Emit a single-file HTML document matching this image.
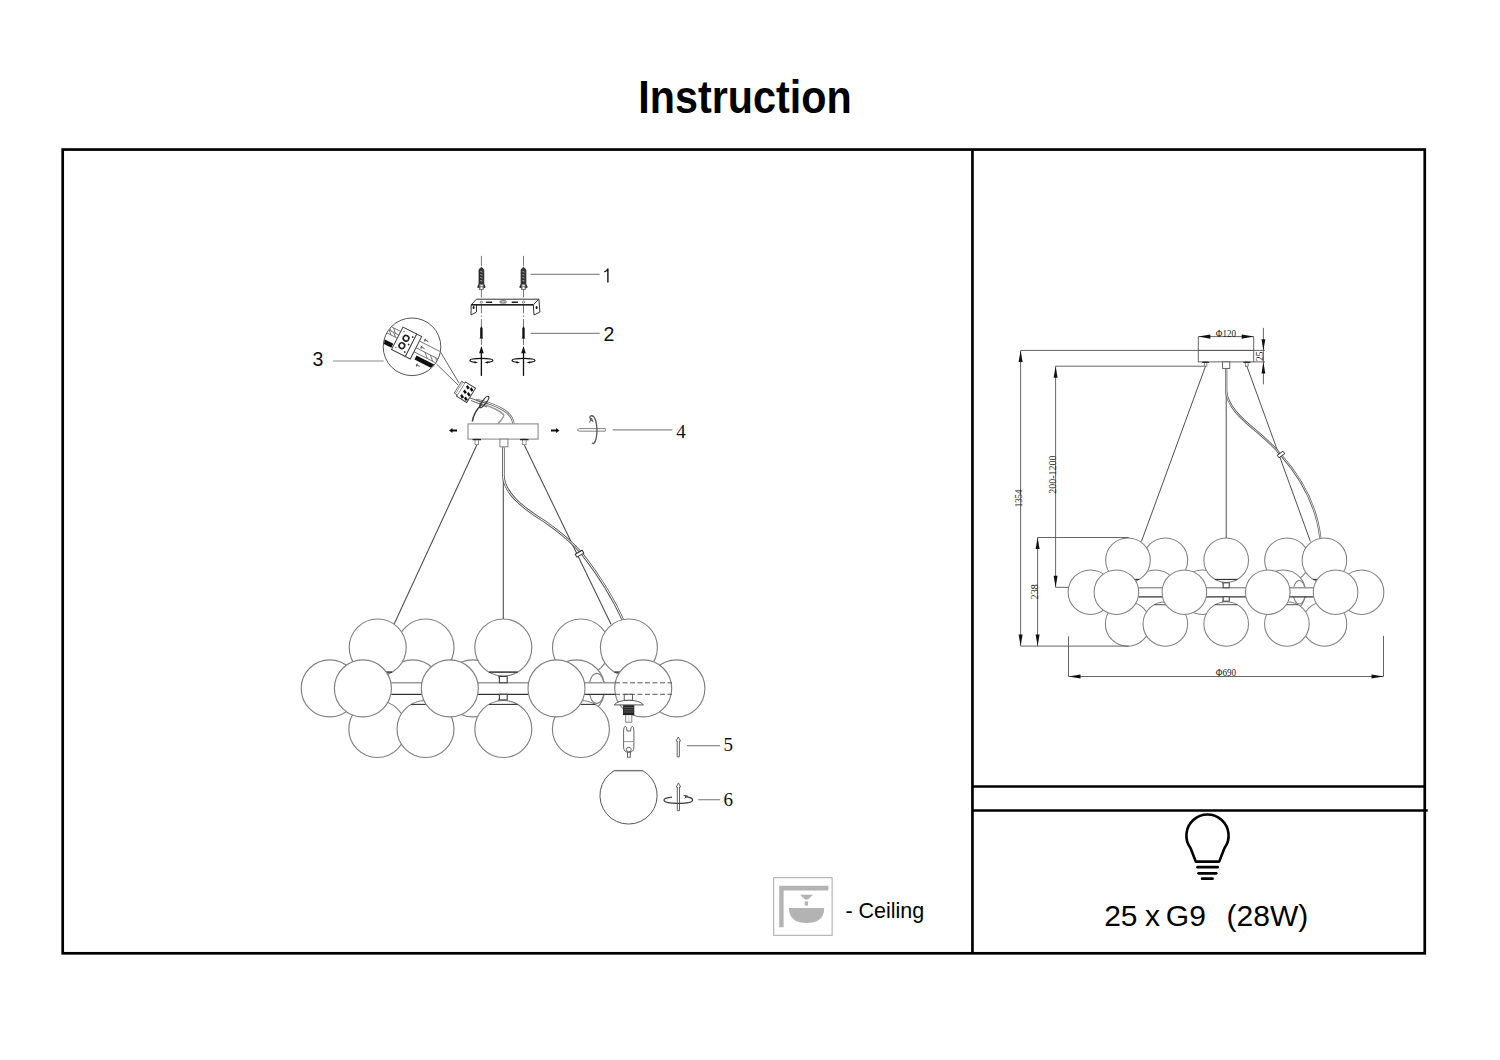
<!DOCTYPE html><html><head><meta charset="utf-8"><title>Instruction</title><style>
html,body{margin:0;padding:0;background:#fff;width:1500px;height:1060px;overflow:hidden}
svg{position:absolute;left:0;top:0}
</style></head><body>
<svg width="1500" height="1060" viewBox="0 0 1500 1060">
<rect width="1500" height="1060" fill="#fff"/>
<text x="641" y="113.4" transform="translate(641 0) scale(0.8785 1) translate(-641 0)" font-family="Liberation Sans" font-weight="bold" font-size="47" fill="#000" dx="-3">Instruction</text>
<g stroke="#000" stroke-width="2.7" fill="none">
<rect x="62.7" y="149.55" width="1362.05" height="803.75"/>
<line x1="972.45" y1="149.55" x2="972.45" y2="953.3"/>
<line x1="972.45" y1="786.5" x2="1424.75" y2="786.5"/>
<line x1="972.45" y1="810.5" x2="1427.7" y2="810.5"/>
</g>
<g>
<circle cx="425.50" cy="647.50" r="28.50" fill="#fff" stroke="#808080" stroke-width="1.15"/>
<circle cx="581.00" cy="647.50" r="28.50" fill="#fff" stroke="#808080" stroke-width="1.15"/>
<circle cx="329.70" cy="688.40" r="28.50" fill="#fff" stroke="#808080" stroke-width="1.15"/>
<circle cx="412.80" cy="688.40" r="28.50" fill="#fff" stroke="#808080" stroke-width="1.15"/>
<circle cx="472.70" cy="688.40" r="28.50" fill="#fff" stroke="#808080" stroke-width="1.15"/>
<circle cx="576.30" cy="688.40" r="28.50" fill="#fff" stroke="#808080" stroke-width="1.15"/>
<circle cx="676.40" cy="688.40" r="28.50" fill="#fff" stroke="#808080" stroke-width="1.15"/>
<circle cx="377.70" cy="647.50" r="28.50" fill="#fff" stroke="#808080" stroke-width="1.15"/>
<line x1="363.31" y1="672.10" x2="392.09" y2="672.10" stroke="#333" stroke-width="1.50"/>
<circle cx="628.90" cy="647.50" r="28.50" fill="#fff" stroke="#808080" stroke-width="1.15"/>
<line x1="614.51" y1="672.10" x2="643.29" y2="672.10" stroke="#333" stroke-width="1.50"/>
<circle cx="503.30" cy="647.50" r="28.50" fill="#fff" stroke="#808080" stroke-width="1.15"/>
<line x1="488.91" y1="672.10" x2="517.69" y2="672.10" stroke="#333" stroke-width="1.50"/>
<ellipse cx="596.70" cy="688.40" rx="7.80" ry="15.00" fill="#fff" stroke="#808080" stroke-width="1.15"/>
<circle cx="377.30" cy="729.00" r="28.50" fill="#fff" stroke="#808080" stroke-width="1.15"/>
<circle cx="425.50" cy="729.00" r="28.50" fill="#fff" stroke="#808080" stroke-width="1.15"/>
<line x1="411.11" y1="704.40" x2="439.89" y2="704.40" stroke="#333" stroke-width="1.10"/>
<circle cx="503.30" cy="729.00" r="28.50" fill="#fff" stroke="#808080" stroke-width="1.15"/>
<line x1="488.91" y1="704.40" x2="517.69" y2="704.40" stroke="#333" stroke-width="1.10"/>
<circle cx="580.90" cy="729.00" r="28.50" fill="#fff" stroke="#808080" stroke-width="1.15"/>
<line x1="566.51" y1="704.40" x2="595.29" y2="704.40" stroke="#333" stroke-width="1.10"/>
<rect x="391.30" y="682.70" width="224.00" height="11.60" fill="#fff" stroke="none"/>
<line x1="391.30" y1="682.70" x2="615.30" y2="682.70" stroke="#999" stroke-width="1.49"/>
<line x1="391.30" y1="694.30" x2="615.30" y2="694.30" stroke="#333" stroke-width="1.26"/>
<rect x="499.40" y="676.40" width="7.80" height="6.30" fill="#fff" stroke="#444" stroke-width="1.15"/>
<rect x="499.40" y="694.30" width="7.80" height="5.60" fill="#fff" stroke="#444" stroke-width="1.15"/>
<circle cx="362.90" cy="688.40" r="28.50" fill="#fff" stroke="#808080" stroke-width="1.15"/>
<circle cx="449.80" cy="688.40" r="28.50" fill="#fff" stroke="#808080" stroke-width="1.15"/>
<circle cx="556.50" cy="688.40" r="28.50" fill="#fff" stroke="#808080" stroke-width="1.15"/>
<circle cx="643.20" cy="688.40" r="28.50" fill="#fff" stroke="#808080" stroke-width="1.15"/>
</g>
<g>
<circle cx="1165.36" cy="560.22" r="22.29" fill="#fff" stroke="#808080" stroke-width="1.05"/>
<circle cx="1286.96" cy="560.22" r="22.29" fill="#fff" stroke="#808080" stroke-width="1.05"/>
<circle cx="1090.44" cy="592.20" r="22.29" fill="#fff" stroke="#808080" stroke-width="1.05"/>
<circle cx="1155.43" cy="592.20" r="22.29" fill="#fff" stroke="#808080" stroke-width="1.05"/>
<circle cx="1202.27" cy="592.20" r="22.29" fill="#fff" stroke="#808080" stroke-width="1.05"/>
<circle cx="1283.29" cy="592.20" r="22.29" fill="#fff" stroke="#808080" stroke-width="1.05"/>
<circle cx="1361.56" cy="592.20" r="22.29" fill="#fff" stroke="#808080" stroke-width="1.05"/>
<circle cx="1127.98" cy="560.22" r="22.29" fill="#fff" stroke="#808080" stroke-width="1.05"/>
<line x1="1116.73" y1="579.45" x2="1139.23" y2="579.45" stroke="#333" stroke-width="1.17"/>
<circle cx="1324.42" cy="560.22" r="22.29" fill="#fff" stroke="#808080" stroke-width="1.05"/>
<line x1="1313.17" y1="579.45" x2="1335.67" y2="579.45" stroke="#333" stroke-width="1.17"/>
<circle cx="1226.20" cy="560.22" r="22.29" fill="#fff" stroke="#808080" stroke-width="1.05"/>
<line x1="1214.95" y1="579.45" x2="1237.45" y2="579.45" stroke="#333" stroke-width="1.17"/>
<ellipse cx="1299.24" cy="592.20" rx="6.10" ry="11.73" fill="#fff" stroke="#808080" stroke-width="1.05"/>
<circle cx="1127.67" cy="623.95" r="22.29" fill="#fff" stroke="#808080" stroke-width="1.05"/>
<circle cx="1324.50" cy="623.95" r="22.29" fill="#fff" stroke="#808080" stroke-width="1.05"/>
<circle cx="1165.36" cy="623.95" r="22.29" fill="#fff" stroke="#808080" stroke-width="1.05"/>
<line x1="1154.11" y1="604.71" x2="1176.61" y2="604.71" stroke="#333" stroke-width="0.86"/>
<circle cx="1226.20" cy="623.95" r="22.29" fill="#fff" stroke="#808080" stroke-width="1.05"/>
<line x1="1214.95" y1="604.71" x2="1237.45" y2="604.71" stroke="#333" stroke-width="0.86"/>
<circle cx="1286.88" cy="623.95" r="22.29" fill="#fff" stroke="#808080" stroke-width="1.05"/>
<line x1="1275.63" y1="604.71" x2="1298.14" y2="604.71" stroke="#333" stroke-width="0.86"/>
<rect x="1138.62" y="587.74" width="175.17" height="9.07" fill="#fff" stroke="none"/>
<line x1="1138.62" y1="587.74" x2="1313.78" y2="587.74" stroke="#999" stroke-width="1.37"/>
<line x1="1138.62" y1="596.81" x2="1313.78" y2="596.81" stroke="#333" stroke-width="1.16"/>
<rect x="1223.15" y="582.82" width="6.10" height="4.93" fill="#fff" stroke="#444" stroke-width="1.05"/>
<rect x="1223.15" y="596.81" width="6.10" height="4.38" fill="#fff" stroke="#444" stroke-width="1.05"/>
<circle cx="1116.41" cy="592.20" r="22.29" fill="#fff" stroke="#808080" stroke-width="1.05"/>
<circle cx="1184.36" cy="592.20" r="22.29" fill="#fff" stroke="#808080" stroke-width="1.05"/>
<circle cx="1267.80" cy="592.20" r="22.29" fill="#fff" stroke="#808080" stroke-width="1.05"/>
<circle cx="1335.60" cy="592.20" r="22.29" fill="#fff" stroke="#808080" stroke-width="1.05"/>
</g>
<g fill="none" stroke="#505050" stroke-width="1.1">
<line x1="476.8" y1="445" x2="394.3" y2="623.7"/>
<line x1="524.3" y1="445" x2="611" y2="624.2"/>
<line x1="503.3" y1="447" x2="503.3" y2="619"/>
</g>
<path d="M503.4 447.2 L503.4 475.8 C504 492 520 506 544 521 C560 532 574 544 583 555 C600 577 612 596 622.6 619.2" fill="none" stroke="#555" stroke-width="2.6"/>
<path d="M503.4 447.2 L503.4 475.8 C504 492 520 506 544 521 C560 532 574 544 583 555 C600 577 612 596 622.6 619.2" fill="none" stroke="#fff" stroke-width="1.0"/>
<rect x="575.5" y="552" width="8" height="3.4" transform="rotate(-30 579.5 553.7)" fill="#fff" stroke="#333" stroke-width="1"/>
<rect x="468" y="423.9" width="70.1" height="15.2" fill="#fff" stroke="#808080" stroke-width="1"/>
<rect x="499.9" y="439.1" width="8" height="7.7" fill="#fff" stroke="#808080" stroke-width="1"/>
<rect x="475" y="439.1" width="3.6" height="5.5" fill="#fff" stroke="#808080" stroke-width="0.8"/>
<rect x="522.5" y="439.1" width="3.6" height="5.5" fill="#fff" stroke="#808080" stroke-width="0.8"/>
<line x1="472.5" y1="439.6" x2="481" y2="439.6" stroke="#222" stroke-width="1.3"/>
<line x1="520" y1="439.6" x2="528.5" y2="439.6" stroke="#222" stroke-width="1.3"/>
<path d="M475.9 399.9 C485 401.5 499 406 507 412.4 C511 416 513.3 420 513.3 423.9" fill="none" stroke="#666" stroke-width="2.4"/>
<path d="M475.9 399.9 C485 401.5 499 406 507 412.4 C511 416 513.3 420 513.3 423.9" fill="none" stroke="#fff" stroke-width="0.9"/>
<path d="M479 403 C489 406 499 409.5 503.5 414.5 C505 417 500 421 497.7 423.9" fill="none" stroke="#999" stroke-width="1.6"/>
<path d="M482 404 C476 410 473 416 472.3 421.7" fill="none" stroke="#444" stroke-width="1.6"/>
<g transform="translate(466 392.2) rotate(32)">
<rect x="-6" y="-8.4" width="12" height="16.8" fill="#fff" stroke="#444" stroke-width="1"/>
<path d="M-6 -7 L-9.5 -7 L-9.5 7 L-6 7" fill="#fff" stroke="#555" stroke-width="0.8"/>
<line x1="-8" y1="-7" x2="-8" y2="7" stroke="#777" stroke-width="0.6"/>
<g fill="#111"><path d="M-2.5 -7 L1 -5.6 L0 -3.2 L-3 -4.6 Z"/><path d="M2 -7 L5.5 -5.6 L4.5 -3.2 L1.5 -4.6 Z"/>
<path d="M-2.5 -1.6 L1 -0.2 L0 2.2 L-3 0.8 Z"/><path d="M2 -1.6 L5.5 -0.2 L4.5 2.2 L1.5 0.8 Z"/>
<path d="M-2.5 3.8 L1 5.2 L0 7.6 L-3 6.2 Z"/><path d="M2 3.8 L5.5 5.2 L4.5 7.6 L1.5 6.2 Z"/></g>
</g>
<path d="M470 398 L488 404 M471 400.5 L487 407" stroke="#666" stroke-width="1" fill="none"/>
<ellipse cx="484.2" cy="402" rx="7" ry="2" transform="rotate(-52 484.2 402)" fill="none" stroke="#333" stroke-width="1.2"/>
<path d="M449 430.5 L452.5 428 L452.5 429.6 L457 429.6 L457 431.4 L452.5 431.4 L452.5 433 Z" fill="#111"/>
<path d="M559.5 430.5 L556 428 L556 429.6 L551 429.6 L551 431.4 L556 431.4 L556 433 Z" fill="#111"/>
<path d="M577.2 429.9 L579.5 428.6 L605.3 428.6 L605.3 431.2 L579.5 431.2 Z" fill="#fff" stroke="#777" stroke-width="0.9"/>
<path d="M591.5 421 Q589 417 590.5 416 Q594 414.5 595.8 421 Q598 430 596 439 Q594.5 445 592 443" fill="none" stroke="#555" stroke-width="1.3"/>
<path d="M589.5 422.5 L591.5 418 L593 422" fill="none" stroke="#555" stroke-width="1"/>
<g stroke="#8a8a8a" stroke-width="1.2">
<line x1="530.6" y1="274.4" x2="599.7" y2="274.4"/>
<line x1="530.6" y1="333.3" x2="599.7" y2="333.3"/>
<line x1="333" y1="361" x2="383.7" y2="361"/>
<line x1="612.8" y1="429.9" x2="672.5" y2="429.9"/>
<line x1="686.9" y1="745.6" x2="720.1" y2="745.6"/>
<line x1="698.2" y1="799.7" x2="720.1" y2="799.7"/>
</g>
<path d="M607.9 282.1 V268.6 Q607 271.3 604.8 271.6" fill="none" stroke="#111" stroke-width="1.4" stroke-linecap="round"/>
<g font-family="Liberation Sans" font-size="19.5" fill="#111">
<text x="603.5" y="341">2</text><text x="312.6" y="365.9">3</text>
</g>
<g font-family="Liberation Serif" font-size="19" fill="#111">
<text x="676.3" y="438.4">4</text><text x="723.6" y="751.2">5</text><text x="723.6" y="805.6">6</text>
</g>
<line x1="481.4" y1="255.9" x2="481.4" y2="376" stroke="#555" stroke-width="0.8" stroke-dasharray="10 2.2 1.4 2.2"/>
<line x1="523.5" y1="255.9" x2="523.5" y2="376" stroke="#555" stroke-width="0.8" stroke-dasharray="10 2.2 1.4 2.2"/>
<path d="M481.4 267.3 L483.79999999999995 269.6 L483.79999999999995 284 L485.2 287.3 L483.4 287.8 L479.4 287.8 L477.59999999999997 287.3 L479.0 284 L479.0 269.6 Z" fill="#333" stroke="#222" stroke-width="0.8"/>
<g stroke="#ddd" stroke-width="0.7"><line x1="480.4" y1="271.5" x2="482.4" y2="272.1"/><line x1="480.4" y1="274.5" x2="482.4" y2="275.1"/><line x1="480.4" y1="277.5" x2="482.4" y2="278.1"/><line x1="480.4" y1="280.5" x2="482.4" y2="281.1"/></g>
<rect x="479.5" y="284.2" width="3.8" height="5.4" fill="#fff" stroke="#444" stroke-width="0.7"/>
<path d="M480.5 285.3 V288.6 M482.29999999999995 285.3 V288.6 M480.5 286.5 H482.29999999999995" stroke="#555" stroke-width="0.6"/>
<path d="M523.5 267.3 L525.9 269.6 L525.9 284 L527.3 287.3 L525.5 287.8 L521.5 287.8 L519.7 287.3 L521.1 284 L521.1 269.6 Z" fill="#333" stroke="#222" stroke-width="0.8"/>
<g stroke="#ddd" stroke-width="0.7"><line x1="522.5" y1="271.5" x2="524.5" y2="272.1"/><line x1="522.5" y1="274.5" x2="524.5" y2="275.1"/><line x1="522.5" y1="277.5" x2="524.5" y2="278.1"/><line x1="522.5" y1="280.5" x2="524.5" y2="281.1"/></g>
<rect x="521.6" y="284.2" width="3.8" height="5.4" fill="#fff" stroke="#444" stroke-width="0.7"/>
<path d="M522.6 285.3 V288.6 M524.4 285.3 V288.6 M522.6 286.5 H524.4" stroke="#555" stroke-width="0.6"/>
<g fill="#fff" stroke="#333" stroke-width="1">
<path d="M476.5 299.2 L538.9 299.2 L533.3 304.8 L471.2 304.8 Z"/>
<path d="M471.2 304.8 L476.5 304.8 L476.5 312 L471 315 Z" />
<path d="M533.3 304.8 L538.9 299.2 L539.9 312 L534 315 Z" />
</g>
<path d="M471.2 304.8 L533.3 304.8" stroke="#222" stroke-width="1.5"/>
<g fill="#222"><rect x="485.8" y="301.6" width="6.6" height="1.4" rx="0.7"/><rect x="511.5" y="301.6" width="6.6" height="1.4" rx="0.7"/></g>
<ellipse cx="503.1" cy="301.9" rx="3.4" ry="1.1" fill="none" stroke="#333" stroke-width="0.9"/>
<circle cx="481.4" cy="302.2" r="1.1" fill="none" stroke="#555" stroke-width="0.7"/><circle cx="523.5" cy="302.2" r="1.1" fill="none" stroke="#555" stroke-width="0.7"/>
<g fill="#111"><ellipse cx="473.6" cy="307.5" rx="1" ry="1.5"/><ellipse cx="536.6" cy="307.5" rx="1" ry="1.5"/></g>
<path d="M481.4 326.2 L482.59999999999997 328.2 L482.59999999999997 337.5 L483.4 338.4 L479.4 338.4 L480.2 337.5 L480.2 328.2 Z" fill="#111"/>
<path d="M481.4 346 L483.7 353.3 L479.09999999999997 353.3 Z" fill="#111"/>
<line x1="481.4" y1="352" x2="481.4" y2="375.8" stroke="#111" stroke-width="1.3"/>
<path d="M475.4 362.3 Q469.9 361.6 469.9 360.4 Q469.9 358.3 481.4 358.3 Q492.9 358.3 492.9 360.4 Q492.9 361.8 486.4 362.4" fill="none" stroke="#111" stroke-width="1.2"/>
<path d="M477.9 362.6 L474.4 361.2 L474.59999999999997 363.4 Z M484.4 362.6 L488.2 361.4 L487.9 363.4 Z" fill="#111"/>
<path d="M523.5 326.2 L524.7 328.2 L524.7 337.5 L525.5 338.4 L521.5 338.4 L522.3 337.5 L522.3 328.2 Z" fill="#111"/>
<path d="M523.5 346 L525.8 353.3 L521.2 353.3 Z" fill="#111"/>
<line x1="523.5" y1="352" x2="523.5" y2="375.8" stroke="#111" stroke-width="1.3"/>
<path d="M517.5 362.3 Q512.0 361.6 512.0 360.4 Q512.0 358.3 523.5 358.3 Q535.0 358.3 535.0 360.4 Q535.0 361.8 528.5 362.4" fill="none" stroke="#111" stroke-width="1.2"/>
<path d="M520.0 362.6 L516.5 361.2 L516.7 363.4 Z M526.5 362.6 L530.3 361.4 L530.0 363.4 Z" fill="#111"/>
<circle cx="412" cy="346.8" r="28.8" fill="#fff" stroke="#555" stroke-width="1"/>
<line x1="440.5" y1="352" x2="459" y2="383" stroke="#555" stroke-width="0.9"/>
<line x1="436.5" y1="364" x2="458" y2="385" stroke="#555" stroke-width="0.9"/>
<clipPath id="cp3"><circle cx="412" cy="346.8" r="28.3"/></clipPath>
<g clip-path="url(#cp3)"><g transform="translate(412 346.8) rotate(27)">
<g stroke="#666" stroke-width="0.8" fill="none">
<line x1="-40" y1="-8.5" x2="-17" y2="-8.5"/><line x1="-40" y1="-4.5" x2="-17" y2="-4.5"/><line x1="-40" y1="-1" x2="-17" y2="-1"/>
<path d="M-30 -8.5 L-26 -4.5 M-25 -8.5 L-21 -4.5 M-28 -4.5 L-24 -1 M-23 -4.5 L-19 -1"/>
<line x1="4" y1="-8.5" x2="40" y2="-8.5"/><line x1="4" y1="-1" x2="40" y2="-1"/><line x1="4" y1="3.5" x2="40" y2="3.5"/>
<path d="M14 -1 L19 3.5 M20 -1 L25 3.5 M26 -1 L31 3.5"/>
</g>
<rect x="-40" y="5.8" width="22" height="4.4" fill="#111"/>
<rect x="8" y="5.8" width="32" height="4.4" fill="#111"/>
<rect x="-17" y="-13.5" width="15.5" height="25.2" fill="#fff" stroke="#444" stroke-width="1"/>
<rect x="-1.5" y="-13.5" width="5.5" height="25.2" fill="#fff" stroke="#444" stroke-width="1"/>
<circle cx="-9.2" cy="-4.9" r="2.8" fill="none" stroke="#222" stroke-width="1.6"/><circle cx="-9.5" cy="3.6" r="2.8" fill="none" stroke="#222" stroke-width="1.6"/>
<g fill="#333"><circle cx="-3.8" cy="-9" r="0.9"/><circle cx="-4" cy="-0.5" r="0.9"/><circle cx="-4.2" cy="8" r="0.9"/><circle cx="-14" cy="-10" r="0.6"/><circle cx="-14" cy="8" r="0.6"/></g>
<g stroke="#444" stroke-width="0.8" fill="none"><path d="M8 -12 L12 -12 M9 -13.5 L8 -12 L9 -10.5"/><path d="M8 -4 L12 -4 M9 -5.5 L8 -4 L9 -2.5"/><path d="M12 14 L16 14 M13 12.5 L12 14 L13 15.5"/></g>
</g></g>
<g fill="#fff" stroke="#444" stroke-width="0.9">
<rect x="624.2" y="694.3" width="8.2" height="6"/>
<path d="M614.2 704.9 Q618 700.3 628.8 700.3 Q639.6 700.3 643.5 704.9 Z"/>
</g>
<rect x="623" y="705.2" width="11.3" height="9.9" fill="#222"/>
<g stroke="#888" stroke-width="0.6"><line x1="623.5" y1="707.6" x2="633.8" y2="707.6"/><line x1="623.5" y1="709.8" x2="633.8" y2="709.8"/><line x1="623.5" y1="712.0" x2="633.8" y2="712.0"/></g>
<path d="M625.7 715.1 V722.3 H631.8 V715.1" fill="none" stroke="#666" stroke-width="0.8"/>
<line x1="628.8" y1="715.5" x2="628.8" y2="722" stroke="#aaa" stroke-width="0.6"/>
<g fill="#fff" stroke="#555" stroke-width="0.9">
<path d="M623.6 731 Q623.6 726.4 625.3 726.4 Q627 726.4 627 731 L630.6 731 Q630.6 726.4 632.2 726.4 Q633.9 726.4 633.9 731 L633.9 747 Q633.9 752.3 628.8 752.3 Q623.6 752.3 623.6 747 Z"/>
<line x1="623.6" y1="741.6" x2="633.9" y2="741.6" stroke="#999" stroke-width="1.1"/>
<circle cx="628.8" cy="749.6" r="2.4"/>
<rect x="627.5" y="752.2" width="2.8" height="5"/>
</g>
<g stroke="#555" stroke-width="1" stroke-dasharray="5 2.5">
<line x1="615" y1="682.8" x2="671.8" y2="682.8"/><line x1="615" y1="694.3" x2="671.8" y2="694.3"/>
</g>
<path d="M678.3 737 L680.6 741 L679.4 741 L679.4 756.8 L677.2 756.8 L677.2 741 L676 741 Z" fill="#fff" stroke="#555" stroke-width="0.9"/>
<path d="M614.4 770.6 L642.7 770.6 A28.6 28.6 0 1 1 614.4 770.6 Z" fill="#fff" stroke="#555" stroke-width="1"/>
<line x1="614.4" y1="770.6" x2="642.7" y2="770.6" stroke="#777" stroke-width="1.4"/>
<path d="M678.4 782.9 L680.6 787 L679.5 787 L679.5 810.7 L677.3 810.7 L677.3 787 L676.2 787 Z" fill="#fff" stroke="#555" stroke-width="0.9"/>
<path d="M672 797.2 Q664 798 664 800 Q664 803.3 678.4 803.3 Q692.6 803.3 692.6 800 Q692.6 797.5 685 796.5" fill="none" stroke="#444" stroke-width="1.3"/>
<path d="M683.5 795.5 L687.5 796 L684.5 798.3" fill="none" stroke="#444" stroke-width="1"/>
<g fill="none" stroke="#555" stroke-width="0.9">
<polyline points="1198.3,350.4 1020.6,350.4 1020.6,646.1 1128.7,646.1"/>
<polyline points="1204.5,366.2 1055.6,366.2 1055.6,587.3 1068.5,587.3"/>
<polyline points="1128.7,537.5 1037.6,537.5 1037.6,646.1"/>
<polyline points="1068.5,636.3 1068.5,676.5 1383.5,676.5 1383.5,635.8"/>
<polyline points="1198.3,350.4 1198.3,336.6 1253.7,336.6 1253.7,350.4"/>
<line x1="1263.4" y1="327.9" x2="1263.4" y2="384.4"/>
<line x1="1253.7" y1="361.9" x2="1265" y2="361.9"/>
<line x1="1253.7" y1="350.4" x2="1265" y2="350.4"/>
</g>
<path d="M1020.60 350.40 L1022.60 361.90 L1018.60 361.90 Z" fill="#111"/>
<path d="M1020.60 646.10 L1018.60 634.60 L1022.60 634.60 Z" fill="#111"/>
<path d="M1055.60 366.20 L1057.60 377.70 L1053.60 377.70 Z" fill="#111"/>
<path d="M1055.60 587.30 L1053.60 575.80 L1057.60 575.80 Z" fill="#111"/>
<path d="M1037.60 537.50 L1039.60 549.00 L1035.60 549.00 Z" fill="#111"/>
<path d="M1037.60 646.10 L1035.60 634.60 L1039.60 634.60 Z" fill="#111"/>
<path d="M1068.50 676.50 L1080.50 674.40 L1080.50 678.60 Z" fill="#111"/>
<path d="M1383.50 676.50 L1371.50 678.60 L1371.50 674.40 Z" fill="#111"/>
<path d="M1198.30 336.60 L1210.30 334.50 L1210.30 338.70 Z" fill="#111"/>
<path d="M1253.70 336.60 L1241.70 338.70 L1241.70 334.50 Z" fill="#111"/>
<path d="M1263.40 350.40 L1261.50 339.20 L1265.30 339.20 Z" fill="#111"/>
<path d="M1263.40 361.90 L1265.30 373.50 L1261.50 373.50 Z" fill="#111"/>
<g fill="none" stroke="#505050" stroke-width="1">
<line x1="1205.6" y1="366" x2="1141.4" y2="541.6"/>
<line x1="1246.8" y1="366" x2="1310.4" y2="541.4"/>
<line x1="1226.2" y1="368.4" x2="1226.2" y2="537.9"/>
</g>
<path d="M1226.2 368.4 L1226.2 390.9 C1227 405 1240 418 1257.6 432.1 C1268 441 1276 449 1281 455 C1296 472 1316 500 1320.3 537.9" fill="none" stroke="#555" stroke-width="2.2"/>
<path d="M1226.2 368.4 L1226.2 390.9 C1227 405 1240 418 1257.6 432.1 C1268 441 1276 449 1281 455 C1296 472 1316 500 1320.3 537.9" fill="none" stroke="#fff" stroke-width="0.8"/>
<rect x="1277.5" y="453" width="7" height="3" transform="rotate(-35 1281 454.5)" fill="#fff" stroke="#333" stroke-width="0.9"/>
<rect x="1198.3" y="350.4" width="55.4" height="11.5" fill="#fff" stroke="#555" stroke-width="0.9"/>
<line x1="1198.3" y1="350.4" x2="1253.7" y2="350.4" stroke="#555" stroke-width="0.9"/>
<rect x="1222.6" y="361.9" width="7.2" height="6.5" fill="#fff" stroke="#555" stroke-width="0.9"/>
<rect x="1204.3" y="361.9" width="2.6" height="4.3" fill="#fff" stroke="#555" stroke-width="0.7"/>
<rect x="1245.5" y="361.9" width="2.6" height="4.3" fill="#fff" stroke="#555" stroke-width="0.7"/>
<line x1="1202" y1="362.3" x2="1209" y2="362.3" stroke="#222" stroke-width="1.1"/>
<line x1="1243.5" y1="362.3" x2="1250.5" y2="362.3" stroke="#222" stroke-width="1.1"/>
<g font-family="Liberation Serif" font-size="11" fill="#222">
<text x="1215.8" y="336.6" textLength="20.2" lengthAdjust="spacingAndGlyphs">Φ120</text>
<text x="1215.8" y="676.2" textLength="20.4" lengthAdjust="spacingAndGlyphs">Φ690</text>
<text transform="translate(1022 507.3) rotate(-90)" x="0" y="0" textLength="17.8" lengthAdjust="spacingAndGlyphs">1354</text>
<text transform="translate(1056 493.8) rotate(-90)" x="0" y="0" textLength="38.3" lengthAdjust="spacingAndGlyphs">200-1200</text>
<text transform="translate(1038.2 599.4) rotate(-90)" x="0" y="0" textLength="15.1" lengthAdjust="spacingAndGlyphs">238</text>
<text transform="translate(1263.4 361) rotate(-90)" x="0" y="0" textLength="9.5" lengthAdjust="spacingAndGlyphs">25</text>
</g>
<rect x="773.7" y="877.7" width="58.4" height="57.6" fill="none" stroke="#a8a8a8" stroke-width="1"/>
<path d="M779.2 885.8 H828.4 V890.6 H783.6 V927.2 H779.2 Z" fill="#b3b3b3"/>
<path d="M800 894.8 H813 L808 899.6 H805 Z" fill="#b3b3b3"/>
<rect x="804.8" y="901.4" width="3.2" height="4.2" fill="#b3b3b3"/>
<path d="M789 908 H824.2 Q824 923 806.6 923 Q789.2 923 789 908 Z" fill="#b3b3b3"/>
<text x="845.4" y="917.6" font-family="Liberation Sans" font-size="21.5" fill="#000">- Ceiling</text>
<g fill="none" stroke="#000" stroke-width="2.6" stroke-linejoin="round">
<path d="M1195.8 861.6 L1190.6 848.2 A21.1 21.1 0 1 1 1224.4 848.2 L1219.2 861.6 Z"/>
</g>
<g stroke="#000" stroke-width="2.8" stroke-linecap="round">
<line x1="1197.6" y1="867.2" x2="1217.6" y2="867.2"/>
<line x1="1198.6" y1="873.3" x2="1216.2" y2="873.3"/>
<line x1="1202.2" y1="878.7" x2="1212.5" y2="878.7"/>
</g>
<g font-family="Liberation Sans" font-size="30" fill="#000">
<text x="1104.2" y="925.6">25</text><text x="1145" y="925.6">x</text><text x="1165.8" y="925.6">G9</text><text x="1226.6" y="925.6">(28W)</text>
</g>
</svg></body></html>
